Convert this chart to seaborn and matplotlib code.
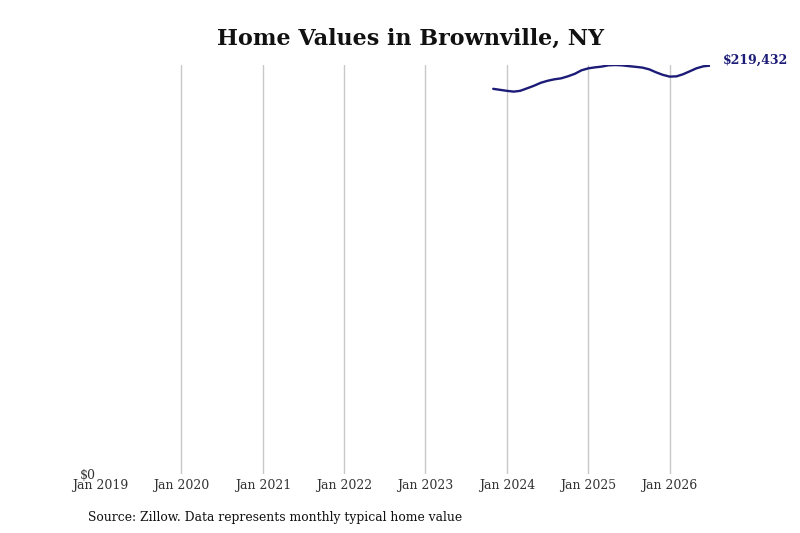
import matplotlib
matplotlib.use("Agg")
import matplotlib.pyplot as plt
import seaborn as sns
import pandas as pd

months = pd.date_range("2023-11-01", "2026-07-01", freq="MS")
values = [206956, 206418, 205881, 205451, 205881, 207225, 208569, 210181,
          211256, 212062, 212600, 213675, 215019, 216900, 217975, 218513,
          218889, 219588, 219750, 219588, 219158, 218782, 218352, 217438,
          215825, 214481, 213514, 213675, 214750, 216363, 217975, 219050,
          219432]
tick_years = list(range(2019, 2027))
tick_labels = [f"Jan {y}" for y in tick_years]
title = "Home Values in Brownville, NY"
source = "Source: Zillow. Data represents monthly typical home value"
line_color = "#1c1c78"

df = pd.DataFrame({"date": months, "value": values})

sns.set_theme(style="white")
plt.rcParams["font.family"] = ["DejaVu Serif"]

fig = plt.figure(figsize=(8, 5.33), dpi=100)
ax = fig.add_axes([0.125, 0.111, 0.7625, 0.767])
sns.lineplot(data=df, x="date", y="value", ax=ax, color=line_color, linewidth=1.7)

ticks = [pd.Timestamp(f"{y}-01-01") for y in tick_years]
ax.set_xticks(ticks)
ax.set_xticklabels(tick_labels, fontsize=9, color="#333333")
ax.set_xlim(pd.Timestamp("2019-01-01"), months[-1])
ax.set_ylim(0, max(values))
ax.set_yticks([0])
ax.set_yticklabels(["$0"], fontsize=9, color="#333333")
ax.tick_params(axis="y", pad=3, length=0)
ax.tick_params(axis="x", pad=4, length=0)
ax.grid(axis="x", color="#c8c8c8", linewidth=1)
ax.xaxis.get_gridlines()[0].set_visible(False)
for s in ax.spines.values():
    s.set_visible(False)
ax.set_xlabel("")
ax.set_ylabel("")

ax.annotate(f"${values[-1]:,}", xy=(months[-1], values[-1]), xytext=(9, 4),
            textcoords="offset points", color=line_color, fontsize=9,
            fontweight="bold", va="center", ha="left", annotation_clip=False)

fig.text(0.513, 0.927, title, ha="center", va="center", fontsize=16, fontweight="bold", color="#111111")
fig.text(0.11, 0.03, source, ha="left", va="center", fontsize=8.9, color="#111111")

fig.savefig("out.png", dpi=100)
